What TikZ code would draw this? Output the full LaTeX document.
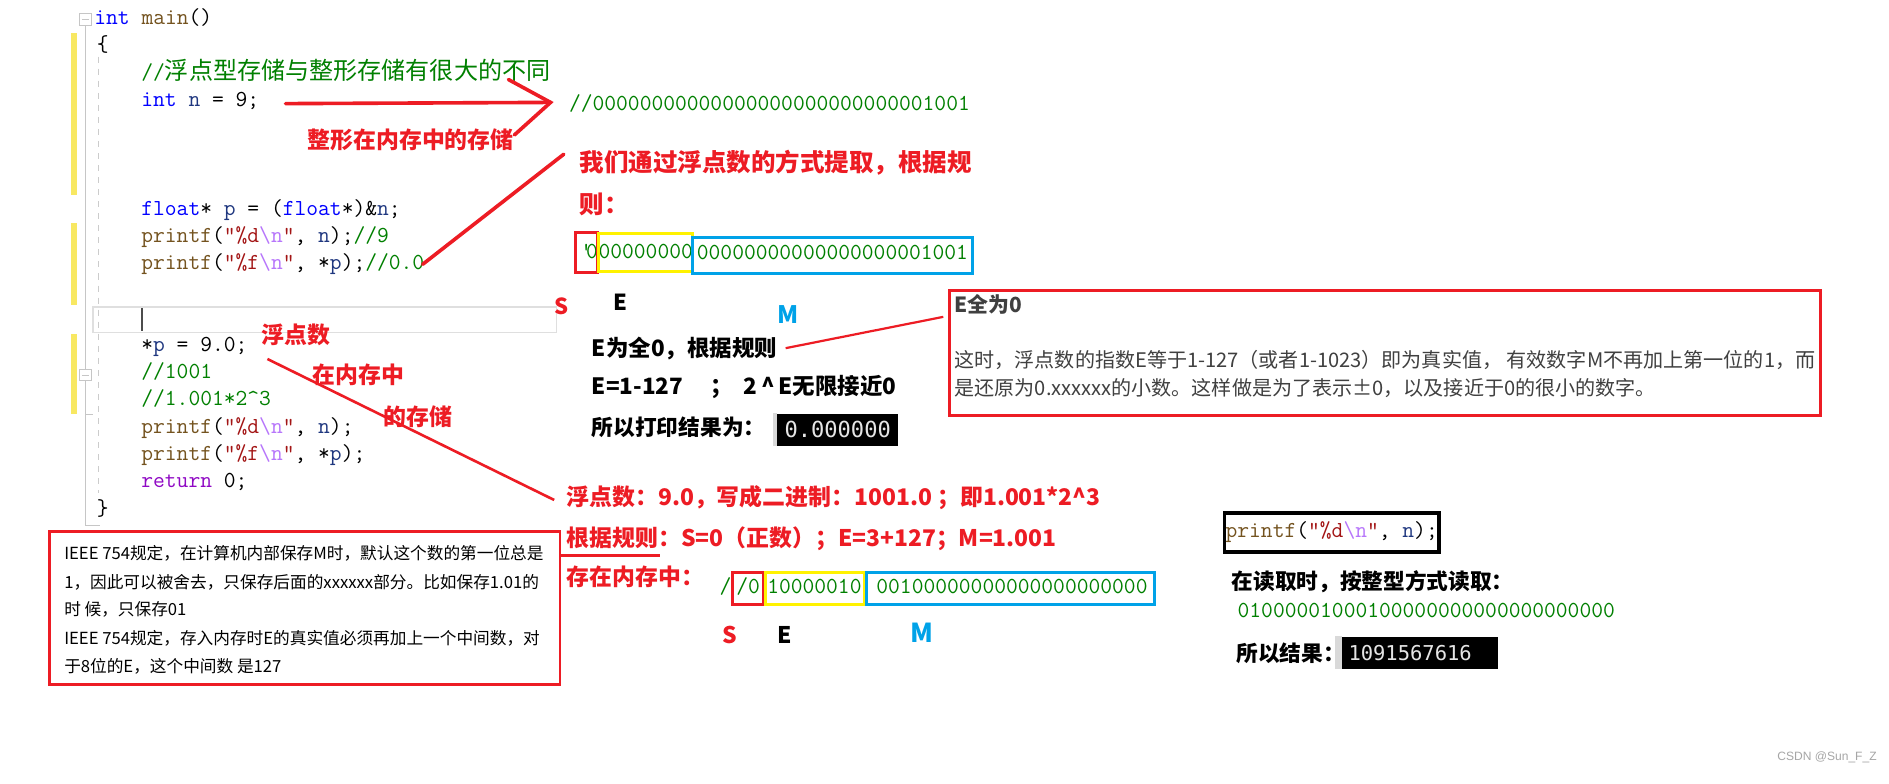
\documentclass[tikz,border=0pt]{standalone}
\usepackage{fontspec}
\newfontfamily\cjk{Noto Sans CJK SC}
\newfontfamily\consfont{DejaVu Sans Mono}
\newfontfamily\wmfont{Liberation Sans}

\definecolor{penred}{RGB}{237,28,36}
\definecolor{boxyellow}{RGB}{255,242,0}
\definecolor{boxblue}{RGB}{0,162,232}
\definecolor{kwblue}{RGB}{0,0,255}
\definecolor{cmtgreen}{RGB}{0,128,0}
\definecolor{fnbrown}{RGB}{116,83,31}
\definecolor{strred}{RGB}{163,21,21}
\definecolor{escviolet}{RGB}{183,118,251}
\definecolor{varnavy}{RGB}{31,55,127}
\definecolor{retpurple}{RGB}{143,8,196}
\definecolor{baryellow}{RGB}{248,232,98}
\definecolor{notegray}{RGB}{64,64,64}

\newcommand\codefont{\fontsize{11.4}{13}\ttfamily}
\newcommand\kw[1]{\textcolor{kwblue}{#1}}
\newcommand\fnc[1]{\textcolor{fnbrown}{#1}}
\newcommand\strg[1]{\textcolor{strred}{#1}}
\newcommand\escn{\textcolor{escviolet}{\textbackslash n}}
\newcommand\vname[1]{\textcolor{varnavy}{#1}}
\newcommand\cmt[1]{\textcolor{cmtgreen}{#1}}

\tikzset{
  codeline/.style={anchor=west,inner sep=0pt,text height=8pt,text depth=2.5pt,font=\codefont},
  bits/.style={inner sep=0pt,text=cmtgreen,text height=8pt,text depth=2.5pt,font=\codefont},
  redtag/.style={anchor=west,inner sep=0pt,text=penred,font=\cjk\bfseries\fontsize{11.4}{13}\selectfont},
  blacktag/.style={anchor=west,inner sep=0pt,font=\cjk\bfseries\fontsize{10.8}{12}\selectfont},
  bitlabel/.style={inner sep=0pt,font=\cjk\bfseries\fontsize{11}{12}\selectfont},
  notetext/.style={anchor=west,inner sep=0pt,text=notegray,font=\cjk\fontsize{10}{12}\selectfont},
  ieeetext/.style={anchor=west,inner sep=0pt,font=\cjk\fontsize{8.3}{10}\selectfont},
  consolebox/.style={fill=black,text=gray!20,inner sep=0pt,font=\consfont\fontsize{11}{12}\selectfont},
  redpen/.style={penred,line width=1.8pt,line cap=round},
  thinred/.style={penred,line width=1.1pt},
  editorline/.style={gray!45,line width=0.6pt},
}

\begin{document}
\begin{tikzpicture}[x=0.6pt,y=-0.6pt]
\useasboundingbox (0,0) rectangle (1568,650);
\fill[white] (0,0) rectangle (1568,650);

% editor margin
\foreach \a/\b in {27/162,185/253,277/344}
  \fill[baryellow] (59,\a) rectangle (64,\b);
\draw[editorline] (71,21) -- (71,307) (71,316) -- (71,436) -- (83,436);
\draw[editorline] (71,344) -- (77,344);
\draw[editorline,fill=white] (66,11) rectangle (76,21) (66,307) rectangle (76,316);
\draw[editorline] (68,16) -- (74,16) (68,311.5) -- (74,311.5);
\draw[gray!40,dashed] (82,47) -- (82,409);
\draw[gray!25,line width=0.8pt] (77,255) rectangle (462,276);
\draw[black!70,line width=0.8pt] (118,256) -- (118,275);

% code
\node[codeline] (code0) at (78,16) {\kw{int} \fnc{main}()};
\node[codeline] (code1) at (80,38) {\{};
\foreach \i/\src in {
  2/{\cmt{//{\cjk\fontsize{12}{13}\selectfont 浮点型存储与整形存储有很大的不同}}},
  3/{\kw{int} \vname{n} = 9;},
  7/{\kw{float}* \vname{p} = (\kw{float}*)\&\vname{n};},
  8/{\fnc{printf}(\strg{"\%d}\escn\strg{"}, \vname{n});\cmt{//9}},
  9/{\fnc{printf}(\strg{"\%f}\escn\strg{"}, *\vname{p});\cmt{//0.0}},
  12/{*\vname{p} = 9.0;},
  13/{\cmt{//1001}},
  14/{\cmt{//1.001*2\textasciicircum 3}},
  15/{\fnc{printf}(\strg{"\%d}\escn\strg{"}, \vname{n});},
  16/{\fnc{printf}(\strg{"\%f}\escn\strg{"}, *\vname{p});},
  17/{\textcolor{retpurple}{return} 0;}}
  \node[codeline] (code\i) at (117,{16+22.6*\i}) {\src};
\node[codeline] (code18) at (80,423) {\}};

% integer storage
\node[bits,anchor=west] (bin1) at (472,87) {//00000000000000000000000000001001};
\coordinate (arrTail) at (237,86);
\coordinate (arrTip) at (457,85);
\coordinate (barbUp) at (422,66);
\coordinate (barbDown) at (427,112);
\draw[redpen] (arrTail) -- (arrTip);
\draw[redpen] (barbUp) -- (arrTip) -- (barbDown);
\node[redtag] (intlabel) at (255,116) {整形在内存中的存储};

% read back as float
\coordinate (ruleTop) at (468,128);
\draw[redpen] ([xshift=-1pt]code9.east) -- (ruleTop);
\node[redtag,font=\cjk\bfseries\fontsize{12.2}{14}\selectfont] (ruleA) at (481,135) {我们通过浮点数的方式提取，根据规};
\node[redtag,font=\cjk\bfseries\fontsize{12.2}{14}\selectfont] (ruleB) at (481,170) {则：};
\node[bits] (s1) at (489,210) {'\kern-3pt0};
\node[bits] (e1) at (536,210) {00000000};
\node[bits] (m1) at (691,211) {00000000000000000001001};
\draw[penred,line width=1.5pt] (478,193) rectangle (496,226);
\draw[boxyellow,line width=1.5pt] (497,194) rectangle (575,225);
\draw[boxblue,line width=1.5pt] (575,197) rectangle (807,227);
\node[bitlabel,text=penred] (s1lab) at (466,254) {S};
\node[bitlabel] (e1lab) at (515,251) {E};
\node[bitlabel,text=boxblue,font=\cjk\bfseries\fontsize{12}{13}\selectfont] (m1lab) at (654,261) {M};

\node[blacktag,font=\cjk\bfseries\fontsize{11.2}{12}\selectfont] (ezeroA) at (491,289) {E为全0，根据规则};
\node[blacktag,font=\cjk\bfseries\fontsize{11.2}{12}\selectfont] (ezeroB) at (491,321) {E=1-127\quad\ ；\ \ 2\,\textasciicircum\,E无限接近0};
\node[blacktag] (ezeroC) at (491,355) {所以打印结果为：};
\fill[gray!30] (642,343) rectangle (645,370);
\node[consolebox,anchor=north west,minimum width=60pt,minimum height=16.2pt] (fzero) at (645,343) {0.000000};

\node[draw=penred,line width=1.5pt,anchor=north west,inner sep=0pt,minimum width=433.8pt,minimum height=62.4pt] (ebox) at (787,240) {};
\node[notetext,font=\cjk\bfseries\fontsize{10.4}{12}\selectfont] (eTitle) at (792,253) {E全为0};
\node[notetext] (eLine1) at (792,299) {这时，浮点数的指数E等于1-127（或者1-1023）即为真实值， 有效数字M不再加上第一位的1，而};
\node[notetext] (eLine2) at (792,322) {是还原为0.xxxxxx的小数。这样做是为了表示±0，以及接近于0的很小的数字。};
\coordinate (eboxIn) at (783,263);
\draw[thinred] ([xshift=4pt]ezeroA.east) -- (eboxIn);

% float storage
\coordinate (floatTail) at (222,298);
\coordinate (floatHead) at (460,415);
\draw[penred,line width=1.3pt] (floatTail) -- (floatHead);
\node[redtag] (fl1) at (217,278) {浮点数};
\node[redtag] (fl2) at (259,311) {在内存中};
\node[redtag] (fl3) at (318,346) {的存储};

\node[redtag] (nine) at (470,413) {浮点数：9.0，写成二进制：1001.0 ；即1.001*2\textasciicircum 3};
\node[redtag] (nineRule) at (470,447) {根据规则：S=0（正数）；E=3+127；M=1.001};
\node[redtag] (nineMem) at (470,479) {存在内存中：};
\node[bits,anchor=west] (slash) at (597,488) {/};
\node[bits] (s2) at (621,488) {/0};
\node[bits] (e2) at (676,488) {10000010};
\node[bits] (m2) at (840,488) {00100000000000000000000};
\draw[penred,line width=1.5pt] (608,475) rectangle (634,502);
\draw[boxyellow,line width=1.5pt] (635,475) rectangle (718,502);
\draw[boxblue,line width=1.5pt] (719,475) rectangle (958,502);
\node[bitlabel,text=penred,font=\cjk\bfseries\fontsize{11.4}{13}\selectfont] (s2lab) at (606,527) {S};
\node[bitlabel,font=\cjk\bfseries\fontsize{11.4}{13}\selectfont] (e2lab) at (651,527) {E};
\node[bitlabel,text=boxblue,font=\cjk\bfseries\fontsize{13}{14}\selectfont] (m2lab) at (765,525) {M};

% IEEE note
\node[draw=penred,line width=1.2pt,anchor=north west,inner sep=0pt,minimum width=254.4pt,minimum height=76.2pt] (ieeebox) at (40,440) {};
\node[ieeetext] (ieee1) at (53,459) {IEEE 754规定，在计算机内部保存M时，默认这个数的第一位总是};
\node[ieeetext] (ieee2) at (53,483) {1，因此可以被舍去，只保存后面的xxxxxx部分。比如保存1.01的};
\node[ieeetext] (ieee3) at (53,506) {时 候，只保存01};
\node[ieeetext] (ieee4) at (53,530) {IEEE 754规定，存入内存时E的真实值必须再加上一个中间数，对};
\node[ieeetext] (ieee5) at (53,553) {于8位的E，这个中间数 是127};
\coordinate (ruleUnder) at (548,461);
\draw[thinred,line width=1.3pt] (ieeebox.east |- ruleUnder) -- (ruleUnder);

% read as int
\node[draw=black,line width=1.8pt,anchor=west,inner xsep=0.5pt,inner ysep=0pt,minimum height=19.2pt,font=\codefont] (readcode) at (1015,442) {\fnc{printf}(\strg{"\%d}\escn\strg{"}, \vname{n});};
\node[blacktag] (readnote) at (1022,483) {在读取时，按整型方式读取：};
\node[bits,anchor=west] (bin3) at (1027,508) {01000001000100000000000000000000};
\node[blacktag] (result) at (1026,542) {所以结果：};
\fill[gray!30] (1108,528) rectangle (1114,555);
\node[consolebox,anchor=north west,text width=71.4pt,align=left,inner xsep=3pt,minimum height=16.2pt,font=\consfont\fontsize{10.2}{12}\selectfont] (intval) at (1114,528) {1091567616};

\node[anchor=west,inner sep=0pt,text=gray!70,font=\wmfont\fontsize{6}{7}\selectfont] (mark) at (1475,629) {CSDN @Sun\_F\_Z};
\end{tikzpicture}
\end{document}
